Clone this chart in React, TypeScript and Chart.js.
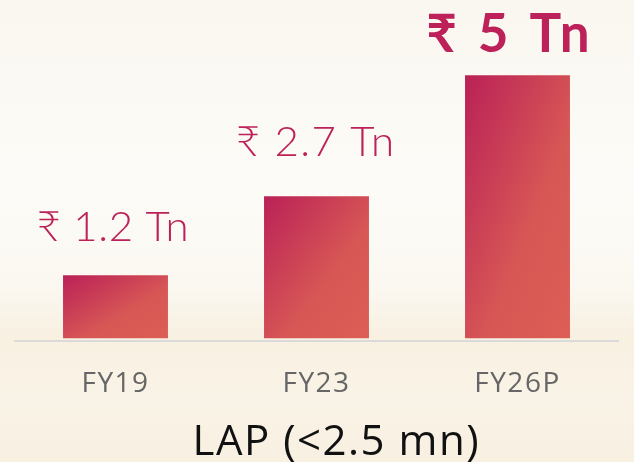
import React, { useEffect, useRef } from "react";
import { Chart, registerables } from "chart.js";

Chart.register(...registerables);

const categories = ["FY19", "FY23", "FY26P"];
const values = [1.2, 2.7, 5];
const valueLabels = ["₹ 1.2 Tn", "₹ 2.7 Tn", "₹ 5 Tn"];
const chartTitle = "LAP (<2.5 mn)";

const LABEL_FONT = "Lato, 'Open Sans', 'DejaVu Sans', sans-serif";
const AXIS_FONT = "'Open Sans', Lato, 'DejaVu Sans', sans-serif";
const LABEL_COLOR = "#bc2259";
const labelStyles = [
  { weight: 300, size: 42, dx: -3, gap: 34, spacing: 0.6 },
  { weight: 300, size: 42, dx: -1.5, gap: 40, spacing: 1.5 },
  { weight: 700, size: 53, dx: -9.5, gap: 23, spacing: 4 },
];
const TITLE_STYLE = { size: 42, color: "#111111", spacing: 1.5, centerX: 335.5, baseline: 455 };

const backgroundPlugin = {
  id: "bgPaint",
  beforeDraw(chart: any) {
    const { ctx, width, height } = chart;
    ctx.save();
    const g = ctx.createLinearGradient(0, 0, 0, height);
    g.addColorStop(0, "#faf7f0");
    g.addColorStop(0.4, "#fcfbf7");
    g.addColorStop(0.62, "#fbf8f1");
    g.addColorStop(0.73, "#f8f0e1");
    g.addColorStop(0.86, "#f9f3e7");
    g.addColorStop(1, "#f8f0e1");
    ctx.fillStyle = g;
    ctx.fillRect(0, 0, width, height);
    ctx.restore();
    // slightly wider tracking for axis text (closer to the reference face)
    ctx.letterSpacing = "1.5px";
  },
};

const textPlugin = {
  id: "valueLabels",
  afterDatasetsDraw(chart: any) {
    const { ctx } = chart;
    const meta = chart.getDatasetMeta(0);
    ctx.save();
    ctx.fillStyle = LABEL_COLOR;
    ctx.textAlign = "center";
    ctx.textBaseline = "alphabetic";
    meta.data.forEach((bar: any, i: number) => {
      const st = labelStyles[i];
      ctx.font = `${st.weight} ${st.size}px ${LABEL_FONT}`;
      ctx.letterSpacing = `${st.spacing}px`;
      ctx.fillText(valueLabels[i], bar.x + st.dx + st.spacing / 2, bar.y - st.gap);
    });
    ctx.restore();
  },
  afterDraw(chart: any) {
    const { ctx } = chart;
    ctx.save();
    ctx.fillStyle = TITLE_STYLE.color;
    ctx.textAlign = "center";
    ctx.textBaseline = "alphabetic";
    ctx.font = `400 ${TITLE_STYLE.size}px ${AXIS_FONT}`;
    ctx.letterSpacing = `${TITLE_STYLE.spacing}px`;
    ctx.fillText(chartTitle, TITLE_STYLE.centerX + TITLE_STYLE.spacing / 2, TITLE_STYLE.baseline);
    ctx.restore();
  },
};

const BAR_PCT = 0.522;

function barGradient(c: any) {
  const chart = c.chart;
  if (!chart.chartArea || c.type !== "data") return "#c93a56";
  const xs = chart.scales.x;
  const ys = chart.scales.y;
  const i = c.dataIndex;
  const cx = xs.getPixelForValue(i);
  const w = (xs.width / categories.length) * BAR_PCT;
  const top = ys.getPixelForValue(values[i]);
  const base = ys.getPixelForValue(0);
  const h = Math.max(1, base - top);
  const cy = (top + base) / 2;
  const n = h * h + w * w;
  const dx = (w * h * h) / n;
  const dy = (w * w * h) / n;
  const g = chart.ctx.createLinearGradient(cx - dx, cy - dy, cx + dx, cy + dy);
  g.addColorStop(0, "#ba2157");
  g.addColorStop(0.6, "#d75755");
  g.addColorStop(1, "#dc5e55");
  return g;
}

export default function App() {
  const ref = useRef<HTMLCanvasElement | null>(null);
  useEffect(() => {
    if (!ref.current) return;
    const chart = new Chart(ref.current, {
      type: "bar",
      data: {
        labels: categories,
        datasets: [
          {
            data: values,
            backgroundColor: barGradient as any,
            borderWidth: 0,
            barPercentage: BAR_PCT,
            categoryPercentage: 1,
          },
        ],
      },
      options: {
        responsive: false,
        animation: false,
        devicePixelRatio: 1,
        layout: { padding: { left: 15, right: 16, top: 0, bottom: 35.4 } },
        plugins: {
          legend: { display: false },
          tooltip: { enabled: false },
          title: { display: false },
        },
        scales: {
          x: {
            grid: { display: false, drawTicks: false },
            border: { display: true, color: "#dadada", width: 2 },
            ticks: {
              color: "#666666",
              font: { family: AXIS_FONT, size: 28, weight: "400" as any, lineHeight: 1.2 },
              padding: 26,
            },
          },
          y: {
            display: false,
            min: -0.05,
            max: 6.43,
            grid: { display: false },
          },
        },
      },
      plugins: [backgroundPlugin, textPlugin],
    });
    return () => chart.destroy();
  }, []);
  return (
    <div style={{ position: "absolute", left: 0, top: 0, width: 634, height: 462 }}>
      <canvas ref={ref} width={634} height={462} />
    </div>
  );
}
